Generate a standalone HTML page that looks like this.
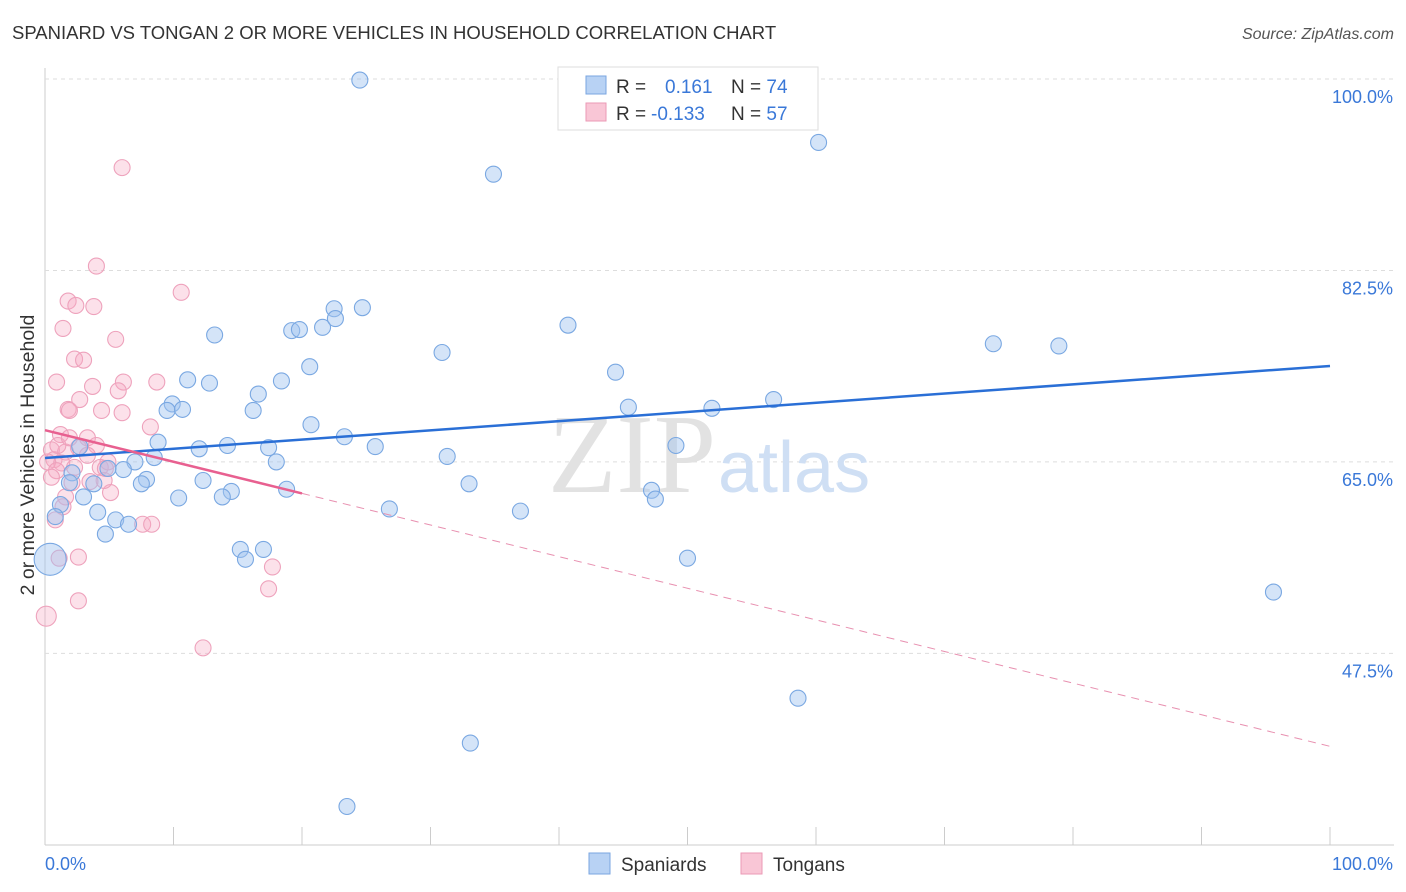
<!DOCTYPE html>
<html><head><meta charset="utf-8"><style>
body{margin:0;background:#fff;font-family:"Liberation Sans",sans-serif;}
</style></head><body>
<svg id="chart" width="1406" height="892" style="display:block">
<text x="12" y="39" font-size="18.5" fill="#333">SPANIARD VS TONGAN 2 OR MORE VEHICLES IN HOUSEHOLD CORRELATION CHART</text>
<text x="1394" y="39" font-size="16" fill="#555" font-style="italic" text-anchor="end">Source: ZipAtlas.com</text>
<g id="grid"></g>
<text x="716" y="492" font-size="112" font-family="Liberation Serif,serif" fill="#e2e2e2" text-anchor="end">ZIP</text>
<text x="718" y="492" font-size="72" fill="#cfdff4">atlas</text>
<g id="marks"></g>
<text transform="translate(34,455) rotate(-90)" font-size="19.5" fill="#333" text-anchor="middle">2 or more Vehicles in Household</text>
<text x="45" y="870" font-size="18" fill="#3a78d8">0.0%</text>
<text x="1393" y="870" font-size="18" fill="#3a78d8" text-anchor="end">100.0%</text>
<g>
<rect x="558" y="67" width="260" height="63" fill="#fff" stroke="#ddd"/>
<rect x="586" y="76" width="20" height="18" fill="#b8d2f4" stroke="#7aa6e0"/>
<rect x="586" y="103" width="20" height="18" fill="#f9c6d6" stroke="#eb9ab6"/>
<text x="616" y="93" font-size="19" fill="#333">R = <tspan fill="#3a78d8" x="665">0.161</tspan><tspan x="731" fill="#333">N = </tspan><tspan fill="#3a78d8">74</tspan></text>
<text x="616" y="120" font-size="19" fill="#333">R = <tspan fill="#3a78d8" x="651">-0.133</tspan><tspan x="731" fill="#333">N = </tspan><tspan fill="#3a78d8">57</tspan></text>
</g>
<g>
<rect x="589" y="853" width="21" height="21" fill="#b8d2f4" stroke="#7aa6e0"/>
<text x="621" y="871" font-size="19" fill="#333">Spaniards</text>
<rect x="741" y="853" width="21" height="21" fill="#f9c6d6" stroke="#eb9ab6"/>
<text x="773" y="871" font-size="19" fill="#333">Tongans</text>
</g>
</svg>
<script>
const yTicks=[100,82.5,65,47.5];
const blueX=[24.5,34.9,60.2,13.2,19.2,19.8,21.6,22.5,22.6,24.7,40.7,30.9,20.6,18.4,11.1,12.8,16.6,44.4,73.8,78.9,9.9,9.5,10.7,16.2,45.4,51.9,56.7,20.7,23.3,8.8,12.0,14.2,17.4,25.7,31.3,49.1,18.0,8.5,7.0,6.1,4.9,2.7,2.1,7.9,7.5,12.3,33.0,47.2,47.5,14.5,13.8,18.8,10.4,3.0,3.8,1.9,1.2,26.8,37.0,4.1,5.5,6.5,0.8,4.7,15.2,17.0,15.6,50.0,95.6,0.4,58.6,33.1,23.5];
const blueY=[99.9,91.3,94.2,76.6,77.0,77.1,77.3,79.0,78.1,79.1,77.5,75.0,73.7,72.4,72.5,72.2,71.2,73.2,75.8,75.6,70.3,69.7,69.8,69.7,70.0,69.9,70.7,68.4,67.3,66.8,66.2,66.5,66.3,66.4,65.5,66.5,65.0,65.4,65.0,64.3,64.4,66.4,64.0,63.4,63.0,63.3,63.0,62.4,61.6,62.3,61.8,62.5,61.7,61.8,63.0,63.1,61.1,60.7,60.5,60.4,59.7,59.3,60.0,58.4,57.0,57.0,56.1,56.2,53.1,56.1,43.4,39.3,33.5];
const pinkX=[6.0,4.0,10.6,1.8,3.8,2.4,1.4,5.5,2.3,3.0,0.9,6.1,8.7,3.7,5.7,2.7,1.8,1.9,4.4,6.0,8.2,1.2,3.3,4.0,2.6,0.5,1.6,0.7,1.3,2.3,4.3,4.9,0.2,0.9,0.5,1.6,5.1,4.6,2.1,3.5,1.4,0.8,7.6,8.3,2.6,1.1,17.7,17.4,2.6,0.1,12.3,3.3,1.0,1.9,4.7];
const pinkY=[91.9,82.9,80.5,79.7,79.2,79.3,77.2,76.2,74.4,74.3,72.3,72.3,72.3,71.9,71.5,70.7,69.8,69.7,69.7,69.5,68.2,67.5,67.2,66.5,66.3,66.1,65.9,65.2,64.9,64.5,64.5,65.0,65.0,64.2,63.6,61.8,62.2,63.3,63.1,63.2,60.9,59.7,59.3,59.3,56.3,56.2,55.4,53.4,52.3,50.9,48.0,65.6,66.5,67.2,64.4];
const blueTrend=[65.36,73.77];
const pinkTrend=[67.9,39.0];
const pinkSolidEnd=20;
const NS='http://www.w3.org/2000/svg';
const xs=v=>45+v*12.85, ys=v=>79+(100-v)*10.94;
function mk(tag,attrs,parent){const e=document.createElementNS(NS,tag);for(const k in attrs)e.setAttribute(k,attrs[k]);document.getElementById(parent).appendChild(e);return e;}
let e=mk('line',{x1:45,y1:68,x2:45,y2:845,stroke:'#ccc'},'grid');


e=mk('line',{x1:45,y1:845,x2:1394,y2:845,stroke:'#ccc'},'grid');


for(let i=0;i<=10;i++){e=mk('line',{x1:xs(i*10),y1:827,x2:xs(i*10),y2:845,stroke:'#ccc'},'grid');

}
yTicks.forEach(t=>{e=mk('line',{x1:45,y1:ys(t),x2:1394,y2:ys(t),stroke:'#ddd','stroke-dasharray':'4,4'},'grid');


e=mk('text',{x:1393,y:ys(t)+24,'font-size':18,fill:'#3a78d8','text-anchor':'end'},'grid');e.textContent=t.toFixed(1)+'%';

});
pinkX.forEach((x,i)=>{const big=(x<0.3&&pinkY[i]<52);e=mk('circle',{cx:xs(x),cy:ys(pinkY[i]),r:big?10:8,fill:'rgba(245,170,195,0.35)',stroke:'#eea2bc','stroke-width':1.1},'marks');

});
blueX.forEach((x,i)=>{const big=(x<0.5&&blueY[i]<57);e=mk('circle',{cx:xs(x),cy:ys(blueY[i]),r:big?16:8,fill:'rgba(160,195,240,0.45)',stroke:'#7aa8e2','stroke-width':1.1},'marks');

});
e=mk('line',{x1:xs(0),y1:ys(blueTrend[0]),x2:xs(100),y2:ys(blueTrend[1]),stroke:'#2a6fd6','stroke-width':2.5},'marks');


const pAt=x=>pinkTrend[0]+(pinkTrend[1]-pinkTrend[0])*x/100;
e=mk('line',{x1:xs(0),y1:ys(pAt(0)),x2:xs(pinkSolidEnd),y2:ys(pAt(pinkSolidEnd)),stroke:'#e86090','stroke-width':2.5},'marks');


e=mk('line',{x1:xs(pinkSolidEnd),y1:ys(pAt(pinkSolidEnd)),x2:xs(100),y2:ys(pAt(100)),stroke:'#e890b0','stroke-width':1,'stroke-dasharray':'8,6'},'marks');


</script>
</body></html>
